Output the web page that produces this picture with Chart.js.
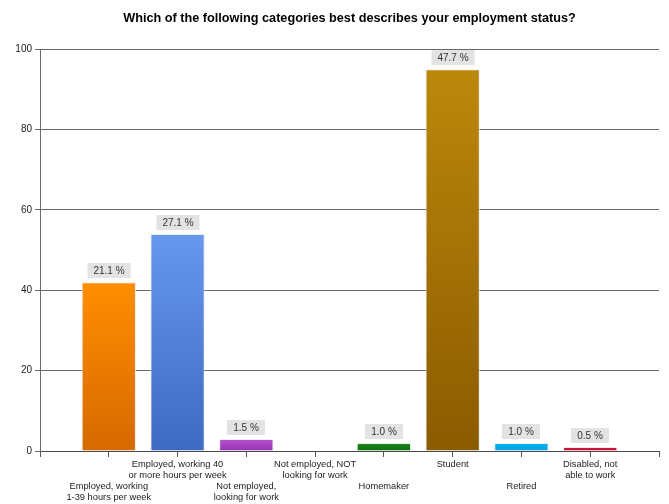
<!DOCTYPE html>
<html>
<head>
<meta charset="utf-8">
<script src="https://cdn.jsdelivr.net/npm/chart.js@4/dist/chart.umd.min.js"></script>
<style>
  html, body { margin: 0; padding: 0; background: #ffffff; }
  #wrap { width: 669px; height: 504px; }
</style>
</head>
<body>
<div id="wrap"><canvas id="chart" width="669" height="504"></canvas></div>
<script>
// Survey answers: employment status
const categories = [
  ['Employed, working', '1-39 hours per week'],
  ['Employed, working 40', 'or more hours per week'],
  ['Not employed,', 'looking for work'],
  ['Not employed, NOT', 'looking for work'],
  ['Homemaker'],
  ['Student'],
  ['Retired'],
  ['Disabled, not', 'able to work']
];
const responses = [42, 54, 3, 0, 2, 95, 2, 1];
const yTicks = [0, 20, 40, 60, 80, 100];

const barTop    = ['#ff8e00', '#6797ee', '#b654d2', '#909090', '#1c8c1c', '#bc880b', '#00b6f2', '#dc163e'];
const barBottom = ['#d66900', '#3d6ac4', '#9630b2', '#707070', '#0b6e0b', '#8b5b00', '#009fe0', '#c20c30'];

const total = responses.reduce((a, b) => a + b, 0);

// Axis with an empty slot at each end so ticks sit at 0..9
const labels = [''];
categories.forEach((lines, i) => {
  // alternate rows: odd entries drop below the even ones
  labels.push(i % 2 === 0 ? ['', ''].concat(lines) : lines);
});
labels.push('');
const values = [null].concat(responses, [null]);

function barFill(ctx) {
  const chart = ctx.chart;
  const i = ctx.dataIndex - 1;
  if (i < 0 || i >= responses.length) return '#000';
  if (!chart.chartArea) return barTop[i];
  const y = chart.scales.y;
  const top = y.getPixelForValue(responses[i]);
  const base = y.getPixelForValue(0);
  if (!(base - top > 0.5)) return barTop[i];
  const g = chart.ctx.createLinearGradient(0, top, 0, base);
  g.addColorStop(0, barTop[i]);
  g.addColorStop(1, barBottom[i]);
  return g;
}

// Percentage tags above each bar
const valueTags = {
  id: 'valueTags',
  afterDatasetsDraw(chart) {
    const ctx = chart.ctx;
    const meta = chart.getDatasetMeta(0);
    ctx.save();
    ctx.font = '10px "Liberation Sans", Arial, sans-serif';
    ctx.textAlign = 'center';
    ctx.textBaseline = 'middle';
    meta.data.forEach((bar, idx) => {
      const i = idx - 1;
      if (i < 0 || i >= responses.length) return;
      const v = responses[i];
      if (!v) return;
      const text = (v / total * 100).toFixed(1) + ' %';
      const w = Math.round(ctx.measureText(text).width) + 12;
      const h = 15;
      const x = Math.round(bar.x);
      const bottom = Math.round(bar.y) - 4;
      ctx.fillStyle = '#e3e3e3';
      ctx.fillRect(x - w / 2, bottom - h, w, h);
      ctx.fillStyle = '#333333';
      ctx.fillText(text, x, bottom - h / 2 + 0.5);
    });
    ctx.restore();
  }
};

Chart.defaults.font.family = '"Liberation Sans", Arial, sans-serif';
Chart.defaults.font.size = 10;
Chart.defaults.color = '#222222';

new Chart(document.getElementById('chart'), {
  type: 'bar',
  data: {
    labels: labels,
    datasets: [{
      data: values,
      backgroundColor: barFill,
      borderColor: 'rgba(235,235,235,0.9)',
      borderWidth: 1,
      categoryPercentage: 1,
      barPercentage: 0.79
    }]
  },
  options: {
    responsive: false,
    animation: false,
    layout: { padding: { left: 0, right: 10, top: 0, bottom: 0 } },
    plugins: {
      legend: { display: false },
      tooltip: { enabled: false },
      title: {
        display: true,
        fullSize: false,
        text: 'Which of the following categories best describes your employment status?',
        color: '#000000',
        font: { size: 12.7, weight: 'bold' },
        padding: { top: 11, bottom: 23 }
      }
    },
    scales: {
      x: {
        offset: false,
        grid: {
          display: true,
          offset: false,
          drawOnChartArea: false,
          drawTicks: true,
          tickLength: 6,
          color: '#5a5a5a'
        },
        border: { display: true, color: '#4a4a4a', width: 1 },
        ticks: {
          autoSkip: false,
          maxRotation: 0,
          minRotation: 0,
          padding: 2,
          color: '#222222',
          font: { size: 9.3, lineHeight: 1.17 }
        },
        afterFit(scale) { scale.height = 53; }
      },
      y: {
        min: 0,
        max: 100,
        afterBuildTicks(scale) { scale.ticks = yTicks.map(v => ({ value: v })); },
        grid: {
          color: '#6a6a6a',
          lineWidth: 1,
          drawTicks: true,
          tickLength: 5
        },
        border: { display: true, color: '#6a6a6a', width: 1 },
        ticks: { padding: 3, color: '#222222', font: { size: 10 } },
        afterFit(scale) { scale.width = 40; }
      }
    }
  },
  plugins: [valueTags]
});
</script>
</body>
</html>
